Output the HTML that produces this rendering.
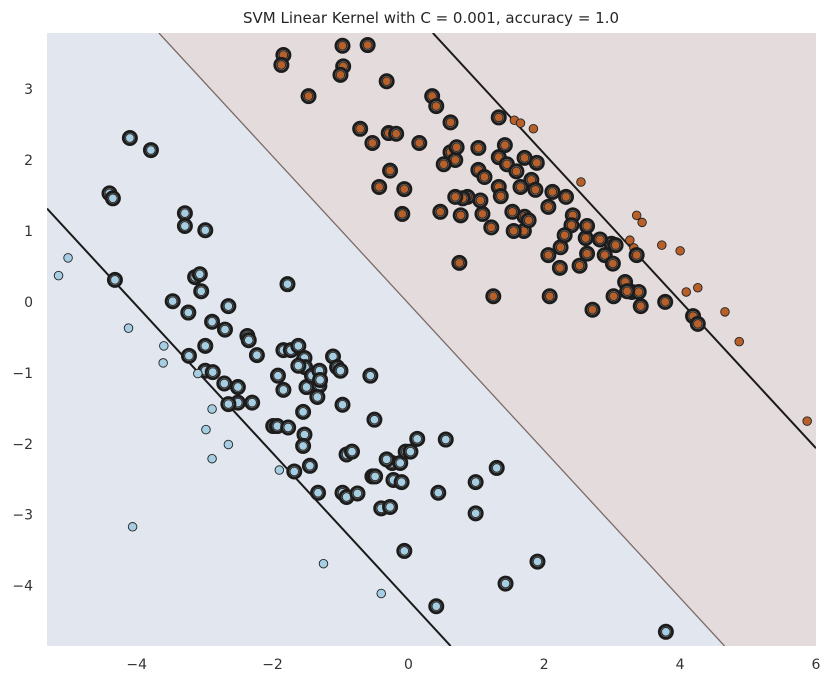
<!DOCTYPE html>
<html><head><meta charset="utf-8">
<style>
html,body{margin:0;padding:0;background:#fff;width:830px;height:686px;overflow:hidden;}
svg{display:block;font-family:"DejaVu Sans","Liberation Sans",sans-serif;}
</style></head>
<body>
<svg id="chart" width="830" height="686" viewBox="0 0 830 686">
<text x="431" y="23" text-anchor="middle" font-size="15" fill="#262626">SVM Linear Kernel with C = 0.001, accuracy = 1.0</text>
<defs><clipPath id="pc"><rect x="47" y="33" width="769" height="613"/></clipPath></defs>
<g id="plot" clip-path="url(#pc)"></g>
<g id="axes"></g>
</svg>
<script>
const xDomain = [-5.32, 6.0];
const yDomain = [-4.85, 3.79];
const xTicks = [-4, -2, 0, 2, 4, 6];
const yTicks = [-4, -3, -2, -1, 0, 1, 2, 3];
// decision function f = w0*x + w1*y + b
const weights = [0.248, 0.239];
const bias = 0.005;
// class 1 (brown) points
const class1X = [-1.84,-1.87,-0.97,-0.60,-0.96,-1.00,-0.32,-1.47,0.35,0.41,0.62,-0.71,-0.29,-0.18,-0.53,0.16,0.62,1.03,1.33,1.42,1.33,0.69,0.52,0.71,1.03,1.12,1.33,1.65,1.89,1.45,1.71,1.59,1.81,1.87,1.36,1.53,1.06,0.87,0.47,0.80,0.69,-0.27,-0.43,-0.06,-0.09,1.09,0.77,1.22,1.70,1.71,1.77,1.55,2.12,2.32,2.06,2.42,2.40,2.24,2.06,2.23,2.30,2.61,2.63,2.52,2.63,2.89,3.01,2.99,2.82,3.05,3.32,3.36,3.19,3.29,3.39,3.22,3.42,2.08,3.02,3.78,4.19,4.26,0.75,1.25,2.71,
1.56,1.65,1.84,2.54,3.36,3.44,3.73,4.00,4.09,4.26,4.66,4.87,5.87,3.26];
const class1Y = [3.48,3.34,3.61,3.62,3.32,3.20,3.11,2.90,2.90,2.76,2.53,2.44,2.38,2.37,2.24,2.24,2.11,1.86,2.60,2.21,2.04,2.00,1.94,2.18,2.17,1.76,1.62,1.62,1.96,1.94,2.03,1.84,1.72,1.58,1.49,1.27,1.43,1.48,1.27,1.46,1.48,1.85,1.62,1.59,1.24,1.24,1.22,1.05,1.00,1.20,1.15,1.00,1.55,1.48,1.34,1.22,1.08,0.77,0.66,0.48,0.94,0.90,1.07,0.51,0.68,0.66,0.54,0.82,0.88,0.80,0.76,0.66,0.28,0.14,0.14,0.15,-0.06,0.08,0.08,0.00,-0.20,-0.31,0.55,0.08,-0.11,
2.56,2.52,2.44,1.69,1.22,1.12,0.80,0.72,0.14,0.20,-0.14,-0.56,-1.68,0.87];
// class 0 (light blue) points
const class0X = [-4.10,-3.79,-4.40,-4.35,-4.32,-3.29,-3.29,-2.99,-3.14,-3.07,-3.05,-3.47,-3.24,-2.65,-3.23,-2.99,-2.89,-2.70,-2.37,-2.35,-2.23,-2.99,-2.88,-2.71,-2.51,-2.30,-2.51,-2.65,-1.92,-1.84,-1.99,-1.93,-1.77,-1.68,-1.84,-1.73,-1.62,-1.56,-1.53,-1.52,-1.50,-1.31,-1.42,-1.31,-1.30,-1.11,-1.05,-1.00,-1.34,-1.55,-1.53,-1.55,-1.45,-1.33,-0.97,-0.56,-0.50,-0.97,-0.91,-0.75,-0.91,-0.83,-0.53,-0.40,-0.27,-0.24,-0.32,-0.12,-0.22,-0.10,-0.04,0.03,0.13,0.55,0.44,-0.49,0.99,1.30,1.43,1.90,0.99,-0.06,0.41,3.79,-1.78,-1.62,
-5.15,-5.01,-4.12,-3.60,-3.61,-3.10,-2.89,-2.98,-2.65,-2.89,-4.06,-1.25,-0.40,-1.90];
const class0Y = [2.31,2.14,1.53,1.46,0.31,1.25,1.07,1.01,0.35,0.39,0.15,0.01,-0.15,-0.06,-0.76,-0.62,-0.28,-0.39,-0.48,-0.54,-0.75,-0.97,-0.99,-1.15,-1.20,-1.42,-1.42,-1.44,-1.04,-1.24,-1.75,-1.75,-1.77,-2.39,-0.68,-0.68,-0.62,-0.85,-0.79,-0.92,-1.20,-1.18,-1.04,-0.97,-1.10,-0.77,-0.92,-0.97,-1.34,-1.55,-1.87,-2.03,-2.31,-2.69,-1.45,-1.04,-1.66,-2.69,-2.75,-2.70,-2.15,-2.11,-2.46,-2.91,-2.89,-2.27,-2.22,-2.27,-2.51,-2.54,-2.11,-2.11,-1.93,-1.94,-2.69,-2.46,-2.54,-2.34,-3.97,-3.66,-2.98,-3.51,-4.29,-4.65,0.25,-0.90,
0.37,0.62,-0.37,-0.62,-0.86,-1.01,-1.51,-1.80,-2.01,-2.21,-3.17,-3.69,-4.11,-2.37];

const PL=47, PR=816, PT=33, PB=646;
function sx(v){return PL+(v-xDomain[0])/(xDomain[1]-xDomain[0])*(PR-PL);}
function sy(v){return PB-(v-yDomain[0])/(yDomain[1]-yDomain[0])*(PB-PT);}
function dec(x,y){return weights[0]*x+weights[1]*y+bias;}

const NS="http://www.w3.org/2000/svg";
function mk(tag,attrs,parent){const e=document.createElementNS(NS,tag);for(const k in attrs)e.setAttribute(k,attrs[k]);parent.appendChild(e);return e;}
const plot=document.getElementById('plot');
const axes=document.getElementById('axes');

// clip the domain rectangle to half-plane f(x,y) >= level
function clipHalf(level){
  const rect=[[xDomain[0],yDomain[0]],[xDomain[1],yDomain[0]],[xDomain[1],yDomain[1]],[xDomain[0],yDomain[1]]];
  const out=[];
  for(let i=0;i<4;i++){
    const a=rect[i], b=rect[(i+1)%4];
    const fa=dec(a[0],a[1])-level, fb=dec(b[0],b[1])-level;
    if(fa>=0) out.push(a);
    if((fa>=0)!==(fb>=0)){const t=fa/(fa-fb);out.push([a[0]+t*(b[0]-a[0]),a[1]+t*(b[1]-a[1])]);}
  }
  return out;
}
// segment of line f=level inside domain
function lineSeg(level){
  const rect=[[xDomain[0],yDomain[0]],[xDomain[1],yDomain[0]],[xDomain[1],yDomain[1]],[xDomain[0],yDomain[1]]];
  const pts=[];
  for(let i=0;i<4;i++){
    const a=rect[i], b=rect[(i+1)%4];
    const fa=dec(a[0],a[1])-level, fb=dec(b[0],b[1])-level;
    if((fa>=0)!==(fb>=0)){const t=fa/(fa-fb);pts.push([a[0]+t*(b[0]-a[0]),a[1]+t*(b[1]-a[1])]);}
  }
  return pts;
}

const bgBlue=mk('rect',{x:PL,y:PT,width:PR-PL,height:PB-PT,fill:'#e2e6ef'},plot);


const poly=clipHalf(0).map(p=>sx(p[0]).toFixed(2)+','+sy(p[1]).toFixed(2)).join(' ');
const bgBrown=mk('polygon',{points:poly,fill:'#e4dbdc'},plot);



const levels=[-1,0,1];
levels.forEach(l=>{
  const s=lineSeg(l);
  if(s.length<2) return;
  const ln=mk('line',{x1:sx(s[0][0]),y1:sy(s[0][1]),x2:sx(s[1][0]),y2:sy(s[1][1]),
    stroke:l===0?'#7a6a66':'#1a1a1a','stroke-width':l===0?1.3:2},plot);
  
  
});

function drawPoint(x,y,cls){
  const f=dec(x,y);
  const sv = cls===1 ? f<=1 : f>=-1;
  const cx=sx(x), cy=sy(y);
  if(sv){
    const r=mk('circle',{cx:cx,cy:cy,r:6.6,fill:'#808080',stroke:'#1c1c1c','stroke-width':2.8},plot);
    
    
  }
  const c=mk('circle',{cx:cx,cy:cy,r:4.3,fill:cls===1?'#b8602a':'#a6cee3',stroke:'#222','stroke-width':0.9},plot);
  
  
}
for(let i=0;i<class0X.length;i++)drawPoint(class0X[i],class0Y[i],0);
for(let i=0;i<class1X.length;i++)drawPoint(class1X[i],class1Y[i],1);

function fmt(v){return v<0?'\u2212'+Math.abs(v):String(v);}
xTicks.forEach(t=>{
  const e=mk('text',{x:sx(t),y:PB+23,'text-anchor':'middle','font-size':14,fill:'#333'},axes);
  e.textContent=fmt(t);
  
  
});
yTicks.forEach(t=>{
  const e=mk('text',{x:PL-14,y:sy(t)+5,'text-anchor':'end','font-size':14,fill:'#333'},axes);
  e.textContent=fmt(t);
  
  
});
</script>
</body></html>
